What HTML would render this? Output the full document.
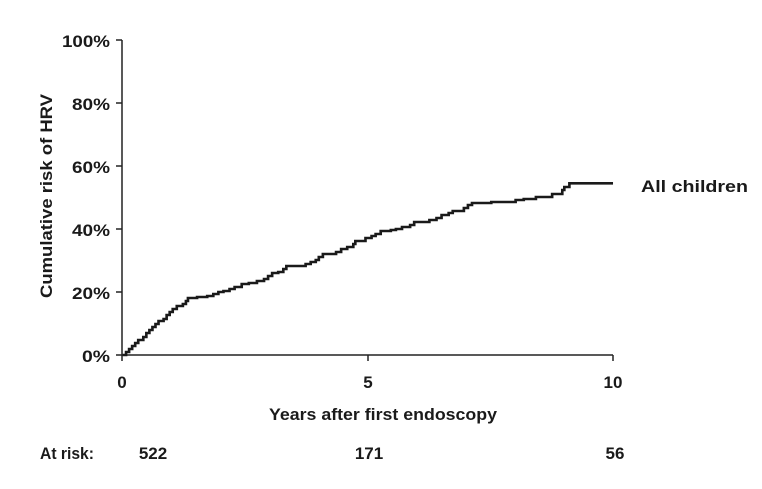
<!DOCTYPE html>
<html><head><meta charset="utf-8"><style>
body{margin:0;background:#fff;}
svg text{font-family:"Liberation Sans",sans-serif;font-weight:bold;fill:#1a1a1a;}
</style></head><body>
<svg width="762" height="484" viewBox="0 0 762 484">
<g stroke="#222" stroke-width="1.5" fill="none">
<line x1="122" y1="40" x2="122" y2="355"/>
<line x1="116" y1="355" x2="613" y2="355"/>
<line x1="116" y1="40" x2="122" y2="40"/>
<line x1="116" y1="103" x2="122" y2="103"/>
<line x1="116" y1="166" x2="122" y2="166"/>
<line x1="116" y1="229" x2="122" y2="229"/>
<line x1="116" y1="292" x2="122" y2="292"/>
<line x1="122" y1="355" x2="122" y2="361"/>
<line x1="368" y1="355" x2="368" y2="361"/>
<line x1="613" y1="355" x2="613" y2="361"/>
</g>
<path transform="translate(122,0) scale(1.0145,1) translate(-122,0)" fill="none" stroke="#1a1a1a" stroke-width="2.6" d="M122.7,355 H126 V352 H129 V349 H132 V346 H135 V343 H138 V340 H143 V337 H146 V333 H149 V330 H152 V327 H155 V324 H158 V321 H163 V319 H166 V315 H169 V312 H172 V309 H176 V306 H182 V304 H185 V301 H187 V298 H196 V297 H206 V296 H212 V294 H217 V292 H222 V291 H228 V289 H233 V287 H240 V284 H247 V283 H255 V281 H262 V279 H266 V276 H270 V273 H276 V272 H281 V269 H284 V266 H303 V264 H308 V262 H313 V260 H316 V257 H320 V254 H333 V252 H338 V249 H344 V247 H350 V244 H352 V241 H362 V238 H368 V236 H372 V234 H377 V231 H387 V230 H392 V229 H398 V227 H406 V225 H410 V222 H425 V220 H432 V218 H437 V215 H444 V213 H448 V211 H459 V208 H463 V205 H467 V203 H486 V202 H510 V200 H518 V199 H530 V197 H546 V194 H556 V190 H558 V187 H563 V183.3 H606"/>
<g font-size="17" text-anchor="end">
<text x="110" y="47" textLength="48" lengthAdjust="spacingAndGlyphs">100%</text>
<text x="110" y="110" textLength="38" lengthAdjust="spacingAndGlyphs">80%</text>
<text x="110" y="173" textLength="38" lengthAdjust="spacingAndGlyphs">60%</text>
<text x="110" y="236" textLength="38" lengthAdjust="spacingAndGlyphs">40%</text>
<text x="110" y="299" textLength="38" lengthAdjust="spacingAndGlyphs">20%</text>
<text x="110" y="362" textLength="28" lengthAdjust="spacingAndGlyphs">0%</text>
</g>
<g font-size="17" text-anchor="middle">
<text x="122" y="388">0</text>
<text x="368" y="388">5</text>
<text x="613" y="388">10</text>
<text x="383" y="420" textLength="228" lengthAdjust="spacingAndGlyphs">Years after first endoscopy</text>
<text x="153" y="459">522</text>
<text x="369" y="459">171</text>
<text x="615" y="459">56</text>
</g>
<text x="40" y="459" font-size="17" textLength="54" lengthAdjust="spacingAndGlyphs">At risk:</text>
<text x="641" y="192" font-size="17" textLength="107" lengthAdjust="spacingAndGlyphs">All children</text>
<text transform="translate(52,196) rotate(-90)" font-size="17" text-anchor="middle" textLength="204" lengthAdjust="spacingAndGlyphs">Cumulative risk of HRV</text>
</svg>
</body></html>
